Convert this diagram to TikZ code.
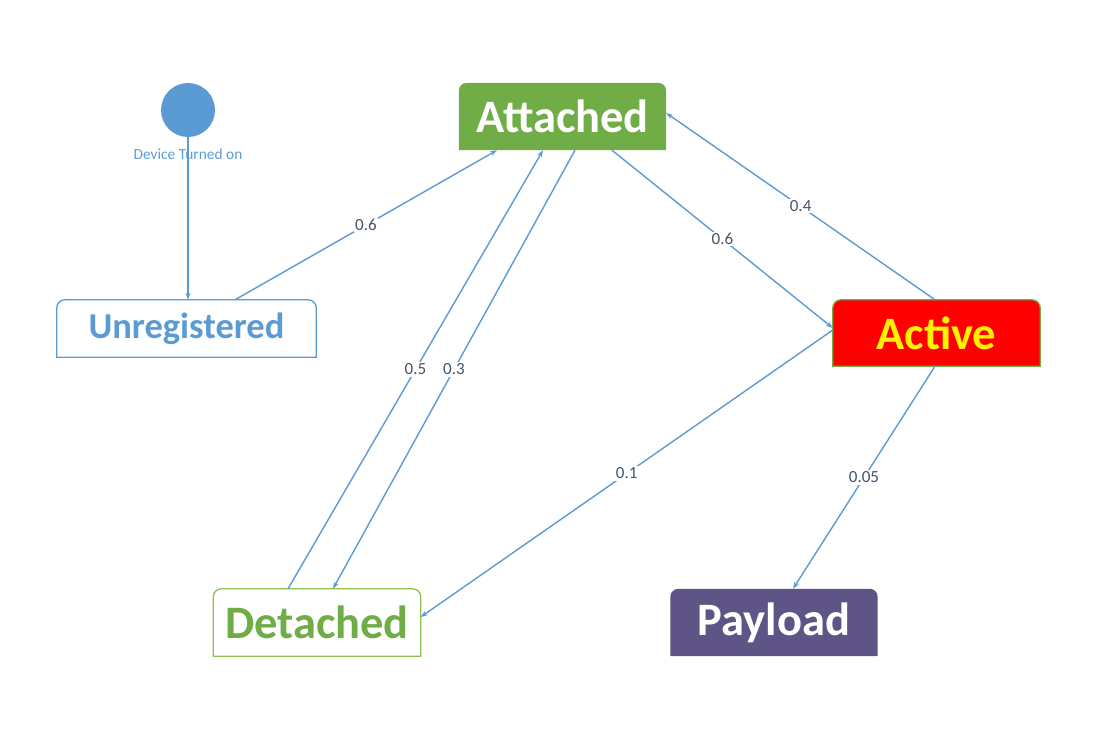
\documentclass[tikz,border=0pt]{standalone}
\usepackage{fontspec}
\setmainfont{Carlito}
\usetikzlibrary{arrows.meta,backgrounds}
\definecolor{lineblue}{HTML}{5B9BD5}
\definecolor{attgreen}{HTML}{70AD47}
\definecolor{detgreen}{HTML}{8CC152}
\definecolor{paypurple}{HTML}{5E5586}
\definecolor{lblgrey}{HTML}{44546A}
% box with rounded top corners behind a node: name, fill, border
\newcommand{\topbox}[3]{%
  \path[fill=#2,draw=#3,line width=1.3pt] (#1.south west)
    -- ([yshift=-8pt]#1.north west) arc[start angle=180,end angle=90,radius=8pt]
    -- ([xshift=-8pt]#1.north east) arc[start angle=90,end angle=0,radius=8pt]
    -- (#1.south east) -- cycle;}

\begin{document}
\begin{tikzpicture}[x=1pt,y=1pt,
  state/.style={minimum width=207pt,minimum height=67pt,inner sep=0pt,
    font=\fontsize{46.5}{48}\selectfont\bfseries},
  edge/.style={draw=lineblue,line width=1.4pt,-{Stealth[length=7pt,width=5pt]}},
  lbl/.style={fill=white,text=lblgrey,inner sep=1.5pt,font=\fontsize{17}{18}\selectfont}]
\useasboundingbox (0,0) rectangle (1100,-740);

\node[circle,fill=lineblue,minimum size=54pt,inner sep=0pt] (start) at (188,-110) {};
\node[text=lineblue,font=\fontsize{15.4}{16}\selectfont] (startlbl) at (188,-154) {Device Turned on};

\node[state,minimum width=259pt,minimum height=57pt,text=lineblue,
  font=\fontsize{36.5}{38}\selectfont\bfseries] (unreg) at (186.5,-328.5) {Unregistered};
\node[state,text=white] (att) at (562.5,-116.5) {Attached};
\node[state,minimum height=66pt,text=yellow] (act) at (936.5,-333) {Active};
\node[state,text=attgreen] (det) at (317,-622.5) {Detached};
\node[state,text=white] (pay) at (774,-622.5) {Payload};

\begin{scope}[on background layer]
\topbox{unreg}{white}{lineblue}
\topbox{att}{attgreen}{none}
\topbox{act}{red}{attgreen}
\topbox{det}{white}{detgreen}
\topbox{pay}{paypurple}{none}
\end{scope}

\draw[edge] (start.south) -- ([xshift=1.5pt]unreg.north);
\draw[edge] ([xshift=48.5pt]unreg.north) -- node[lbl]{0.6} ([xshift=-65.5pt]att.south);
\draw[edge] ([xshift=-29pt]det.north) -- node[lbl]{0.5} ([xshift=-19.5pt]att.south);
\draw[edge] ([xshift=12.5pt]att.south) -- node[lbl]{0.3} ([xshift=16pt]det.north);
\draw[edge] ([xshift=49.5pt]att.south) -- node[lbl]{0.6} ([yshift=5pt]act.west);
\draw[edge] ([xshift=-1.5pt]act.north) -- node[lbl]{0.4} ([yshift=3.5pt]att.east);
\draw[edge] ([yshift=3pt]act.west) -- node[lbl]{0.1} ([yshift=5.5pt]det.east);
\draw[edge] ([xshift=-1.5pt]act.south) -- node[lbl]{0.05} ([xshift=19pt]pay.north);
\end{tikzpicture}
\end{document}
